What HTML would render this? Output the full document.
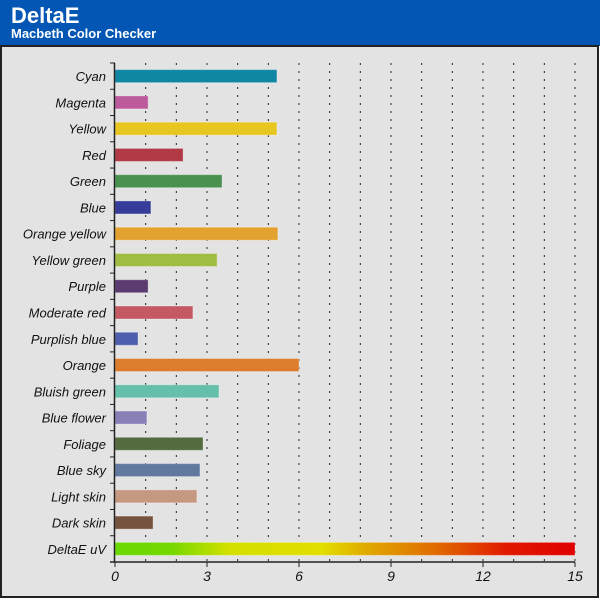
<!DOCTYPE html>
<html><head><meta charset="utf-8"><style>
body{margin:0;width:600px;height:600px;background:#fff;font-family:"Liberation Sans",sans-serif;overflow:hidden}
#hdr{position:absolute;left:0;top:0;width:600px;height:46px;background:#0356b3}
#t1{position:absolute;left:11px;top:3px;color:#fff;font-weight:bold;font-size:22px}
#t2{position:absolute;left:11px;top:26px;color:#fff;font-weight:bold;font-size:13px}
svg{position:absolute;left:0;top:0}
</style></head><body>
<div id="hdr"><div id="t1">DeltaE</div><div id="t2">Macbeth Color Checker</div></div>
<svg id="c" width="600" height="600">
<defs><linearGradient id="g" x1="0" x2="1" y1="0" y2="0">
<stop offset="0" stop-color="#6ad900"/><stop offset="0.12" stop-color="#74d800"/><stop offset="0.25" stop-color="#d4e000"/><stop offset="0.45" stop-color="#e2de00"/><stop offset="0.55" stop-color="#e0a800"/><stop offset="0.7" stop-color="#e06a00"/><stop offset="0.85" stop-color="#e01a00"/><stop offset="1" stop-color="#e00000"/></linearGradient></defs>
<rect x="1" y="46" width="597" height="551" fill="#e3e3e3" stroke="#222" stroke-width="2"/>
</svg>
<script>
const categories=["Cyan","Magenta","Yellow","Red","Green","Blue","Orange yellow","Yellow green","Purple","Moderate red","Purplish blue","Orange","Bluish green","Blue flower","Foliage","Blue sky","Light skin","Dark skin","DeltaE uV"];
const values=[5.28,1.08,5.28,2.22,3.49,1.17,5.31,3.33,1.08,2.54,0.75,6.0,3.39,1.04,2.87,2.77,2.67,1.24,15];
const colors=["#0f87a3","#bd5a9b","#e7c622","#b13a46","#4a9150","#363c99","#e3a22f","#9fbd43","#5c3c70","#c45964","#4e5fae","#db7d2a","#65bfaa","#8a80b8","#536b3f","#62799f","#c59882","#76533f","url(#g)"];
const ticks=[0,3,6,9,12,15];
const X0=115,X1=575,Y0=63,Y1=562,XMAX=15;
const x=v=>X0+(X1-X0)*v/XMAX;
const band=(Y1-Y0)/categories.length;
const y=i=>Y0+band*(i+0.5);
const svg=document.getElementById('c');const NS='http://www.w3.org/2000/svg';
function mk(t,a){const e=document.createElementNS(NS,t);for(const k in a)e.setAttribute(k,a[k]);svg.appendChild(e);return e;}
for(let v=1;v<=XMAX;v++){const l=mk('line',{x1:x(v),x2:x(v),y1:Y0,y2:Y1,stroke:'#222','stroke-width':1,'stroke-dasharray':'2,6'});

}
categories.forEach((c,i)=>{
const r=mk('rect',{x:x(0),y:y(i)-6.5,width:x(values[i])-x(0),height:13,fill:colors[i],stroke:'rgba(255,255,255,0.3)'});


const t=mk('text',{x:106,y:y(i)+5,'text-anchor':'end','font-size':13,'font-style':'italic',fill:'#111'});t.textContent=c;


const tk=mk('line',{x1:X0-5,x2:X0,y1:Y0+band*i,y2:Y0+band*i,stroke:'#222'});


});
const ax=mk('line',{x1:X0-0.5,x2:X0-0.5,y1:Y0,y2:Y1,stroke:'#222','stroke-width':1.5});


const bx=mk('line',{x1:X0-5,x2:X1,y1:Y1,y2:Y1,stroke:'#222','stroke-width':1.5});


ticks.forEach(v=>{const l=mk('line',{x1:x(v),x2:x(v),y1:Y1,y2:Y1+5,stroke:'#222'});


const t=mk('text',{x:x(v),y:Y1+19,'text-anchor':'middle','font-size':14,'font-style':'italic',fill:'#111'});t.textContent=v;

});
</script>
</body></html>
